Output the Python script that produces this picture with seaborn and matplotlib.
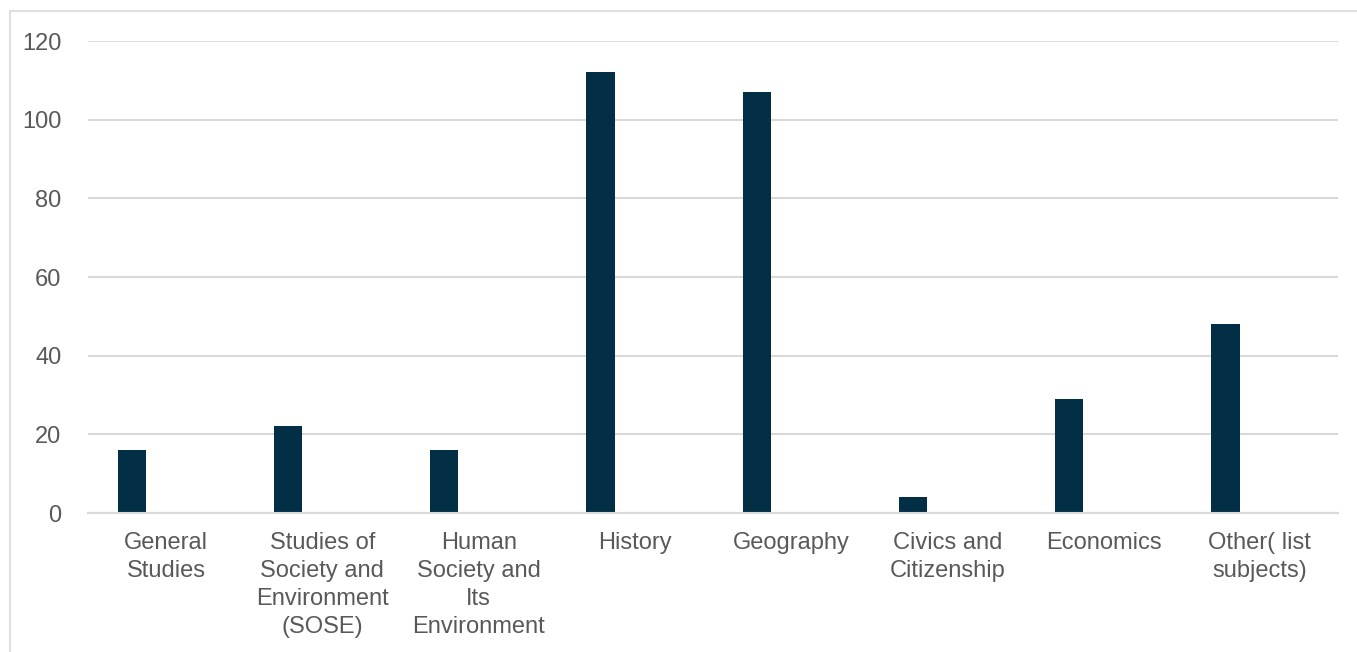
import matplotlib
matplotlib.use("Agg")
import matplotlib.pyplot as plt
import seaborn as sns
import pandas as pd
from matplotlib.patches import Rectangle


# =========================================================
# DATA
# =========================================================
categories = [
    "General\nStudies",
    "Studies of\nSociety and\nEnvironment\n(SOSE)",
    "Human\nSociety and\nIts\nEnvironment",
    "History",
    "Geography",
    "Civics and\nCitizenship",
    "Economics",
    "Other( list\nsubjects)",
]
counts = [16, 22, 16, 112, 107, 4, 29, 48]
y_ticks = [0, 20, 40, 60, 80, 100, 120]

BAR_COLOR = "#022F45"
TEXT_COLOR = "#595959"
GRID_COLOR = "#D9D9D9"


# =========================================================
# PLOT
# =========================================================
sns.set_style("white")
plt.rcParams["font.family"] = ["Liberation Sans", "DejaVu Sans"]

W, H = 1357, 652
fig = plt.figure(figsize=(W / 100, H / 100), dpi=100)
ax = fig.add_axes([88 / W, 1 - 513 / H, (1338 - 88) / W, (513 - 41) / H])

df = pd.DataFrame({"category": categories, "count": counts})
sns.barplot(data=df, x="category", y="count", color=BAR_COLOR,
            width=0.18, saturation=1, linewidth=0, ax=ax)

# the category slots are centred to the right of the bars
shift = 0.22
ax.set_xticks([i + shift for i in range(len(categories))])
ax.set_xticklabels(categories, color=TEXT_COLOR, fontsize=17,
                   linespacing=1.36)
ax.set_xlim(-0.5 + shift, len(categories) - 0.5 + shift)

ax.set_ylim(0, 120)
ax.set_yticks(y_ticks)
ax.set_yticklabels([str(v) for v in y_ticks], color=TEXT_COLOR, fontsize=17)

ax.tick_params(axis="x", length=0, pad=13.5)
ax.tick_params(axis="y", length=0, pad=19)

ax.yaxis.grid(True, color=GRID_COLOR, linewidth=1.5)
ax.set_axisbelow(True)
for side in ["top", "right", "left"]:
    ax.spines[side].set_visible(False)
ax.spines["bottom"].set_color(GRID_COLOR)
ax.spines["bottom"].set_linewidth(1.5)

ax.set_xlabel("")
ax.set_ylabel("")

# outer chart frame (runs off the right and bottom edges)
fig.add_artist(Rectangle((10 / W, -0.1), 1.2, 1.1 - 11 / H,
                         transform=fig.transFigure, fill=False,
                         edgecolor=GRID_COLOR, linewidth=1.2))

fig.savefig("out.png", dpi=100)
plt.close(fig)
